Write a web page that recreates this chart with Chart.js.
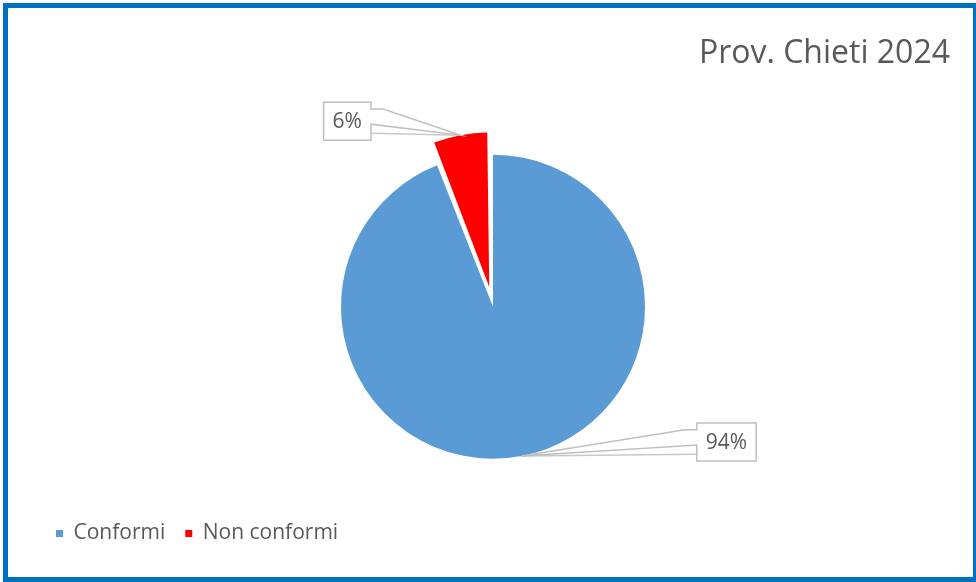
<!DOCTYPE html>
<html>
<head>
<meta charset="utf-8">
<title>Prov. Chieti 2024</title>
<script src="https://cdn.jsdelivr.net/npm/chart.js@4.4.1/dist/chart.umd.min.js"></script>
<style>
    html, body { margin: 0; padding: 0; background: #ffffff; }
    #wrap { width: 976px; height: 582px; position: relative; }
</style>
</head>
<body>
<div id="wrap"><canvas id="chart" width="976" height="582"></canvas></div>
<script>
// data
const categories = ['Conformi', 'Non conformi'];
const shares = [94, 6];
const sliceColors = ['#5B9BD5', '#FF0000'];

const textGrey = '#595959';
const fontFamily = '"Open Sans", "Noto Sans", sans-serif';

// Excel style callout label next to each slice
const calloutPlugin = {
    id: 'callouts',
    afterDatasetsDraw(chart) {
        const ctx = chart.ctx;
        const meta = chart.getDatasetMeta(0);
        const total = shares.reduce((a, b) => a + b, 0);
        // where the label box sits relative to its anchor point
        const boxShift = [[205, -14], [-113, -14]];

        ctx.save();
        ctx.font = '21px ' + fontFamily;
        meta.data.forEach((arc, i) => {
            const { x, y, startAngle, endAngle, outerRadius, circumference } =
                arc.getProps(['x', 'y', 'startAngle', 'endAngle', 'outerRadius', 'circumference'], true);
            const off = arc.options.offset || 0;
            const mid = (startAngle + endAngle) / 2;
            const shift = off / 4 * (2 - Math.sin(Math.min(Math.PI, circumference)));
            const ax = x + Math.cos(mid) * (shift + outerRadius);
            const ay = y + Math.sin(mid) * (shift + outerRadius);

            const text = Math.round(shares[i] / total * 100) + '%';
            const w = ctx.measureText(text).width + 18;
            const h = 38;
            const cx = ax + boxShift[i][0];
            const cy = ay + boxShift[i][1];
            const x0 = cx - w / 2, x1 = cx + w / 2;
            const y0 = cy - h / 2, y1 = cy + h / 2;
            const left = boxShift[i][0] < 0; // box is left of the anchor -> pointer on right edge
            const ex = left ? x1 : x0;
            const dir = left ? 1 : -1;

            // leader line
            ctx.strokeStyle = '#C8C8C8';
            ctx.lineWidth = 1.5;
            ctx.beginPath();
            ctx.moveTo(ex, y0 + h * 0.82);
            ctx.lineTo(ax, ay);
            ctx.stroke();

            // box + wedge
            ctx.beginPath();
            if (left) {
                ctx.moveTo(x0, y0);
                ctx.lineTo(x1, y0);
                ctx.lineTo(x1, y0 + h * 0.18);
                ctx.lineTo(x1 + 12 * dir, y0 + h * 0.18);
                ctx.lineTo(ax, ay);
                ctx.lineTo(x1, y0 + h * 0.58);
                ctx.lineTo(x1, y1);
                ctx.lineTo(x0, y1);
            } else {
                ctx.moveTo(x1, y0);
                ctx.lineTo(x0, y0);
                ctx.lineTo(x0, y0 + h * 0.18);
                ctx.lineTo(x0 + 12 * dir, y0 + h * 0.18);
                ctx.lineTo(ax, ay);
                ctx.lineTo(x0, y0 + h * 0.58);
                ctx.lineTo(x0, y1);
                ctx.lineTo(x1, y1);
            }
            ctx.closePath();
            ctx.fillStyle = '#ffffff';
            ctx.fill();
            ctx.strokeStyle = '#BFBFBF';
            ctx.lineWidth = 1.5;
            ctx.stroke();

            ctx.fillStyle = textGrey;
            ctx.textAlign = 'center';
            ctx.textBaseline = 'middle';
            ctx.fillText(text, cx, cy + 1);
        });
        ctx.restore();
    }
};

// the exploded slice is drawn a bit smaller than the main one in the original
const sliceRadius = [152, 142];
const radiusPlugin = {
    id: 'sliceRadius',
    beforeDatasetsDraw(chart) {
        chart.getDatasetMeta(0).data.forEach((arc, i) => {
            arc.outerRadius = sliceRadius[i];
        });
    }
};

const framePlugin = {
    id: 'frame',
    afterDraw(chart) {
        const ctx = chart.ctx;
        ctx.save();
        ctx.strokeStyle = '#0070C0';
        ctx.lineWidth = 5;
        ctx.strokeRect(5.5, 5.5, 970, 574);
        ctx.restore();
    }
};

new Chart(document.getElementById('chart'), {
    type: 'pie',
    data: {
        labels: categories,
        datasets: [{
            data: shares,
            backgroundColor: sliceColors,
            borderWidth: 0,
            offset: [0, 80]
        }]
    },
    options: {
        responsive: false,
        animation: false,
        events: [],
        radius: 152,
        layout: {
            padding: { left: 36, right: 26, top: 10, bottom: 28 }
        },
        plugins: {
            title: {
                display: true,
                text: 'Prov. Chieti 2024',
                align: 'end',
                color: textGrey,
                font: { family: fontFamily, size: 32, weight: 'normal', lineHeight: 1.2 },
                padding: { top: 25, bottom: 37 }
            },
            legend: {
                position: 'bottom',
                align: 'start',
                labels: {
                    color: textGrey,
                    boxWidth: 7,
                    boxHeight: 7,
                    padding: 20,
                    font: { family: fontFamily, size: 21 }
                }
            },
            tooltip: { enabled: false }
        }
    },
    plugins: [radiusPlugin, calloutPlugin, framePlugin]
});
</script>
</body>
</html>
